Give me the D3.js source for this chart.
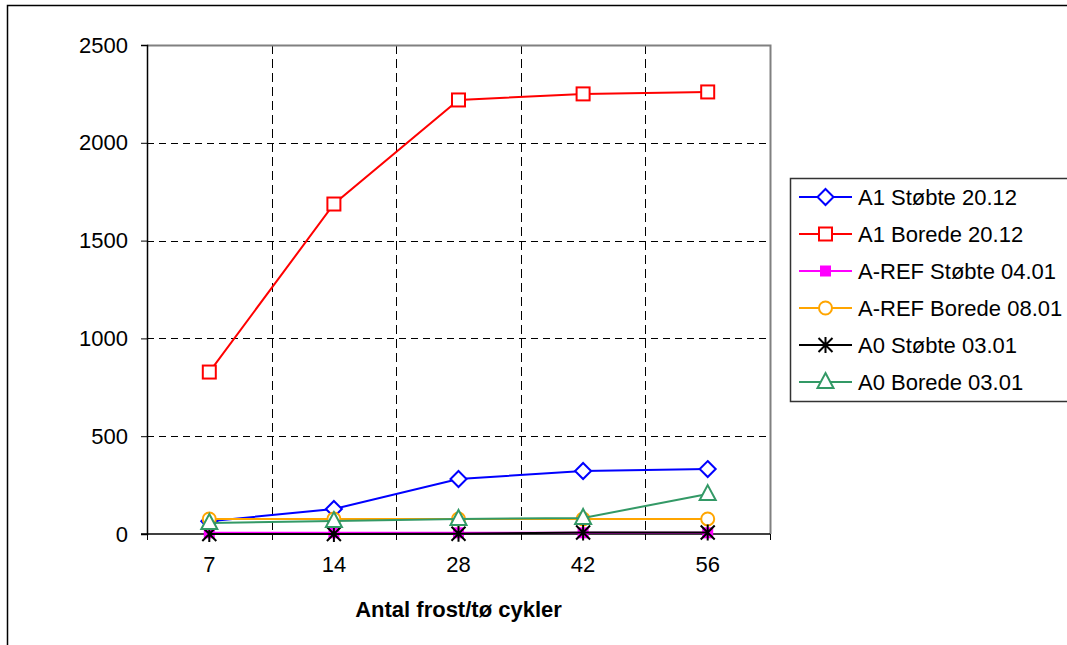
<!DOCTYPE html>
<html>
<head>
<meta charset="utf-8">
<script src="https://cdn.jsdelivr.net/npm/d3@7"></script>
<style>
  html, body { margin: 0; padding: 0; background: #fff; }
  svg { display: block; font-family: "Liberation Sans", Arial, sans-serif; }
</style>
</head>
<body>
<svg id="chart" width="1067" height="645"></svg>
<script>
// Cycles (x categories)
const cycles = ["7", "14", "28", "42", "56"];
const yTicks = [0, 500, 1000, 1500, 2000, 2500];

// Series values per cycle
const a1Stobte   = [65, 128, 281, 322, 332];
const a1Borede   = [828, 1687, 2219, 2250, 2260];
const arefStobte = [6, 6, 6, 6, 6];
const arefBorede = [77, 77, 77, 77, 77];
const a0Stobte   = [0, 0, 1, 8, 8];
const a0Borede   = [56, 66, 77, 82, 204];

const seriesNames = ["A1 Støbte 20.12", "A1 Borede 20.12", "A-REF Støbte 04.01",
                     "A-REF Borede 08.01", "A0 Støbte 03.01", "A0 Borede 03.01"];
const seriesValues = [a1Stobte, a1Borede, arefStobte, arefBorede, a0Stobte, a0Borede];
const seriesColors = ["#0000ff", "#ff0000", "#ff00ff", "#ffa500", "#000000", "#339966"];
const seriesMarkers = ["diamond", "square", "filledSquare", "circle", "star", "triangle"];

const svg = d3.select("#chart");
const plotL = 147, plotR = 770, plotT = 45, plotB = 534;

const x = d3.scaleBand().domain(cycles).range([plotL, plotR]);
const y = d3.scaleLinear().domain([0, 2500]).range([plotB, plotT]);

// outer chart frame
svg.append("rect").attr("x", 7.5).attr("y", 5.5).attr("width", 1100).attr("height", 700)
  .attr("fill", "none").attr("stroke", "#000").attr("stroke-width", 1.5);

// gridlines
const grid = svg.append("g");
grid.selectAll("line.h").data(yTicks.filter(d => d > 0 && d < 2500)).join("line")
  .attr("x1", plotL).attr("x2", plotR)
  .attr("y1", d => Math.round(y(d)) + 0.5).attr("y2", d => Math.round(y(d)) + 0.5)
  .attr("stroke", "#000").attr("stroke-dasharray", "7,5");
grid.selectAll("line.v").data(cycles.slice(1)).join("line")
  .attr("x1", d => Math.round(x(d)) + 0.5).attr("x2", d => Math.round(x(d)) + 0.5)
  .attr("y1", plotT).attr("y2", plotB)
  .attr("stroke", "#000").attr("stroke-dasharray", "9,5");

// plot area border (top / right)
svg.append("path")
  .attr("d", `M${plotL},${plotT + 0.5}H${plotR + 0.5}V${plotB}`)
  .attr("fill", "none").attr("stroke", "#808080").attr("stroke-width", 2);

// y axis
const yAxis = svg.append("g").attr("transform", `translate(${plotL},0)`)
  .call(d3.axisLeft(y).tickValues(yTicks).tickSize(6).tickPadding(13).tickFormat(d3.format("d")));
yAxis.select(".domain").attr("stroke", "#000").attr("stroke-width", 1.5);
yAxis.selectAll("text").attr("font-size", 22).attr("fill", "#000")
  .attr("font-family", "Liberation Sans, Arial, sans-serif");

// x axis with ticks between categories
const xAxis = svg.append("g").attr("transform", `translate(0,${plotB})`)
  .call(d3.axisBottom(x).tickSize(0).tickPadding(22));
xAxis.select(".domain").remove();
xAxis.selectAll("text").attr("font-size", 22).attr("fill", "#000")
  .attr("font-family", "Liberation Sans, Arial, sans-serif");
svg.append("line").attr("x1", plotL - 6).attr("x2", plotR).attr("y1", plotB).attr("y2", plotB)
  .attr("stroke", "#000").attr("stroke-width", 1.5);
const boundaries = cycles.map(c => x(c)).concat([plotR]);
svg.append("g").selectAll("line").data(boundaries).join("line")
  .attr("x1", d => Math.round(d) + 0.5).attr("x2", d => Math.round(d) + 0.5)
  .attr("y1", plotB).attr("y2", plotB + 6).attr("stroke", "#000");

// axis title
svg.append("text").attr("x", (plotL + plotR) / 2).attr("y", 617)
  .attr("text-anchor", "middle").attr("font-size", 22).attr("font-weight", "bold")
  .text("Antal frost/tø cykler");

// marker drawing
function drawMarker(g, type, color, cx, cy) {
  if (type === "diamond") {
    g.append("path").attr("d", `M${cx},${cy - 8}L${cx + 8},${cy}L${cx},${cy + 8}L${cx - 8},${cy}Z`)
      .attr("fill", "#fff").attr("stroke", color).attr("stroke-width", 2);
  } else if (type === "square") {
    g.append("rect").attr("x", cx - 6.5).attr("y", cy - 6.5).attr("width", 13).attr("height", 13)
      .attr("fill", "#fff").attr("stroke", color).attr("stroke-width", 2);
  } else if (type === "filledSquare") {
    g.append("rect").attr("x", cx - 5.5).attr("y", cy - 5.5).attr("width", 11).attr("height", 11)
      .attr("fill", color);
  } else if (type === "circle") {
    g.append("circle").attr("cx", cx).attr("cy", cy).attr("r", 6.5)
      .attr("fill", "#fff").attr("stroke", color).attr("stroke-width", 2);
  } else if (type === "star") {
    const r = 7;
    const p = `M${cx - r},${cy - r}L${cx + r},${cy + r}M${cx - r},${cy + r}L${cx + r},${cy - r}M${cx},${cy - r - 1}L${cx},${cy + r + 1}`;
    g.append("path").attr("d", p).attr("stroke", color).attr("stroke-width", 2).attr("fill", "none");
  } else if (type === "triangle") {
    g.append("path").attr("d", `M${cx},${cy - 9}L${cx + 8},${cy + 6}L${cx - 8},${cy + 6}Z`)
      .attr("fill", "#fff").attr("stroke", color).attr("stroke-width", 2);
  }
}

// series lines and markers
const line = d3.line().x((d, i) => x(cycles[i]) + x.bandwidth() / 2).y(d => y(d));
seriesValues.forEach((vals, s) => {
  const g = svg.append("g");
  g.append("path").datum(vals).attr("d", line)
    .attr("fill", "none").attr("stroke", seriesColors[s]).attr("stroke-width", 2);
  vals.forEach((v, i) => {
    drawMarker(g, seriesMarkers[s], seriesColors[s], x(cycles[i]) + x.bandwidth() / 2, y(v));
  });
});

// legend
const legend = svg.append("g");
legend.append("rect").attr("x", 790.5).attr("y", 178.5).attr("width", 300).attr("height", 223)
  .attr("fill", "#fff").attr("stroke", "#333").attr("stroke-width", 1.5);
seriesNames.forEach((name, s) => {
  const ly = 197 + s * 37;
  legend.append("line").attr("x1", 799).attr("x2", 852).attr("y1", ly).attr("y2", ly)
    .attr("stroke", seriesColors[s]).attr("stroke-width", 2);
  drawMarker(legend, seriesMarkers[s], seriesColors[s], 825.5, ly);
  legend.append("text").attr("x", 858).attr("y", ly).attr("dy", "0.36em")
    .attr("font-size", 22).text(name);
});
</script>
</body>
</html>
